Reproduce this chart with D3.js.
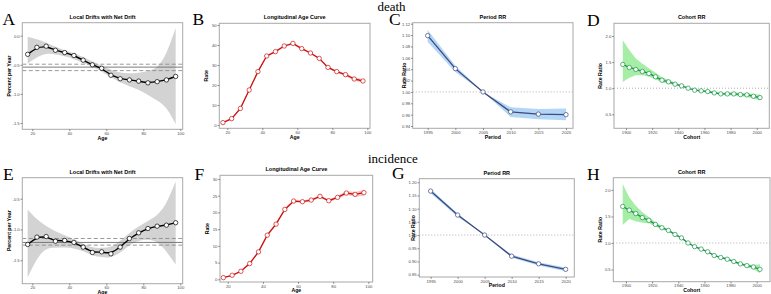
<!DOCTYPE html>
<html>
<head>
<meta charset="utf-8">
<script src="https://cdn.jsdelivr.net/npm/d3@7"></script>
<style>
body { margin: 0; background: #fff; }
</style>
</head>
<body>
<script>
var w = 771;
var h = 294;
var sans = "Liberation Sans, Arial, sans-serif";
var serif = "Liberation Serif, Times New Roman, serif";

// x values
var ages = [17.5,22.5,27.5,32.5,37.5,42.5,47.5,52.5,57.5,62.5,67.5,72.5,77.5,82.5,87.5,92.5,97.5];
var periods = [1995,2000,2005,2010,2015,2020];
var cohorts = [1897.5,1902.5,1907.5,1912.5,1917.5,1922.5,1927.5,1932.5,1937.5,1942.5,1947.5,
               1952.5,1957.5,1962.5,1967.5,1972.5,1977.5,1982.5,1987.5,1992.5,1997.5,2002.5];

// death
var deathDrift   = [-0.32,-0.20,-0.18,-0.25,-0.29,-0.34,-0.42,-0.50,-0.56,-0.68,-0.74,-0.76,-0.78,-0.81,-0.79,-0.76,-0.70];
var deathDriftHi = [-0.02,-0.06,-0.12,-0.19,-0.25,-0.30,-0.37,-0.44,-0.52,-0.59,-0.64,-0.65,-0.64,-0.61,-0.56,-0.33,0.13];
var deathDriftLo = [-0.48,-0.37,-0.30,-0.32,-0.35,-0.40,-0.47,-0.53,-0.61,-0.72,-0.80,-0.87,-0.93,-1.02,-1.11,-1.22,-1.52];
var deathNet     = [-0.54,-0.60,-0.49];   // net drift, lower, upper
var deathAge     = [1.2,3.2,8.3,17.5,26.7,34.5,36.7,39.5,40.8,38.2,36.0,33.3,28.8,26.7,25.2,23.0,22.0];
var deathAgeLo   = [1.0,2.9,7.9,17.0,26.2,34.0,36.2,39.0,40.3,37.7,35.5,32.8,28.3,26.1,24.5,22.2,21.0];
var deathAgeHi   = [1.4,3.5,8.7,18.0,27.2,35.0,37.2,40.0,41.3,38.7,36.5,33.8,29.3,27.3,25.9,23.8,23.0];
var deathPeriod   = [1.099,1.041,1.000,0.965,0.961,0.960];
var deathPeriodLo = [1.088,1.035,1.000,0.956,0.952,0.950];
var deathPeriodHi = [1.109,1.046,1.000,0.973,0.970,0.971];
var deathCohort   = [1.455,1.397,1.359,1.320,1.282,1.218,1.154,1.122,1.077,1.045,1.000,
                     0.962,0.949,0.936,0.910,0.891,0.891,0.891,0.878,0.872,0.846,0.820];
var deathCohortLo = [1.12,1.20,1.25,1.25,1.22,1.17,1.11,1.09,1.05,1.03,1.00,
                     0.95,0.93,0.915,0.89,0.87,0.865,0.86,0.845,0.835,0.80,0.77];
var deathCohortHi = [1.92,1.73,1.57,1.47,1.38,1.30,1.21,1.16,1.11,1.06,1.00,
                     0.975,0.97,0.96,0.935,0.915,0.92,0.925,0.91,0.91,0.89,0.88];

// incidence
var incDrift   = [-1.243,-1.124,-1.114,-1.19,-1.178,-1.21,-1.286,-1.373,-1.362,-1.395,-1.286,-1.146,-1.054,-0.984,-0.946,-0.93,-0.89];
var incDriftHi = [-0.676,-0.84,-0.95,-1.03,-1.09,-1.16,-1.23,-1.30,-1.30,-1.29,-1.19,-1.05,-0.95,-0.86,-0.78,-0.59,-0.22];
var incDriftLo = [-1.78,-1.46,-1.30,-1.30,-1.29,-1.30,-1.35,-1.43,-1.45,-1.46,-1.38,-1.25,-1.18,-1.16,-1.19,-1.35,-1.57];
var incNet     = [-1.21,-1.254,-1.146];
var incAge     = [0.5,1.2,2.4,4.7,8.2,13.2,16.5,20.9,23.4,23.2,23.7,24.8,23.5,24.5,25.8,25.4,25.9];
var incAgeLo   = [0.4,1.0,2.2,4.4,7.9,12.8,16.1,20.5,23.0,22.8,23.3,24.4,23.1,24.0,25.2,24.7,25.0];
var incAgeHi   = [0.6,1.4,2.6,5.0,8.5,13.6,16.9,21.3,23.8,23.6,24.1,25.2,23.9,25.0,26.4,26.1,26.8];
var incPeriod   = [1.1667,1.0758,1.000,0.920,0.891,0.870];
var incPeriodLo = [1.158,1.069,1.000,0.914,0.885,0.863];
var incPeriodHi = [1.175,1.082,1.000,0.926,0.897,0.877];
var incCohort   = [1.688,1.618,1.554,1.478,1.427,1.350,1.287,1.236,1.160,1.096,1.000,
                   0.930,0.885,0.834,0.764,0.726,0.694,0.650,0.605,0.573,0.548,0.503];
var incCohortLo = [1.34,1.45,1.41,1.38,1.37,1.31,1.26,1.21,1.14,1.08,1.00,
                   0.92,0.87,0.82,0.75,0.71,0.675,0.63,0.58,0.545,0.51,0.43];
var incCohortHi = [2.11,1.86,1.70,1.58,1.49,1.39,1.32,1.26,1.18,1.11,1.00,
                   0.94,0.90,0.85,0.78,0.745,0.715,0.67,0.63,0.60,0.585,0.60];

// tick labels
var ageTicks = [20,40,60,80,100];
var periodTicks = [1995,2000,2005,2010,2015,2020];
var cohortTicks = [1900,1920,1940,1960,1980,2000];
var deathDriftTicks = [0,-0.5,-1,-1.5];
var incDriftTicks = [-0.5,-1,-1.5];
var deathAgeTicks = [0,10,20,30,40,50];
var incAgeTicks = [0,5,10,15,20,25,30];
var deathPeriodTicks = [0.94,0.96,0.98,1.00,1.02,1.04,1.06,1.08,1.10,1.12];
var incPeriodTicks = [0.85,0.90,0.95,1.00,1.05,1.10,1.15,1.20];
var cohortRRTicks = [0.5,1.0,1.5,2.0];

var svg = d3.select("body").append("svg")
    .attr("width", w)
    .attr("height", h)
    .style("font-family", sans);

var clipId = 0;

function panel(p) {
    var g = svg.append("g");
    var x = d3.scaleLinear().domain(p.xDomain).range([p.left, p.right]);
    var y = d3.scaleLinear().domain(p.yDomain).range([p.bottom, p.top]);
    var id = "clip" + (clipId++);
    g.append("clipPath").attr("id", id).append("rect")
        .attr("x", p.left).attr("y", p.top)
        .attr("width", p.right - p.left).attr("height", p.bottom - p.top);
    var inner = g.append("g").attr("clip-path", "url(#" + id + ")");

    // confidence band
    var area = d3.area()
        .x(function(d, i) { return x(p.xs[i]); })
        .y0(function(d, i) { return y(p.lo[i]); })
        .y1(function(d, i) { return y(p.hi[i]); })
        .curve(p.curve);
    inner.append("path").datum(p.vals)
        .attr("d", area)
        .attr("fill", p.band);

    // net drift lines
    if (p.net) {
        inner.selectAll("line.net").data(p.net).enter().append("line")
            .attr("x1", p.left).attr("x2", p.right)
            .attr("y1", function(d) { return y(d); })
            .attr("y2", function(d) { return y(d); })
            .attr("stroke", function(d, i) { return i == 0 ? "#6e6e6e" : "#8c8c8c"; })
            .attr("stroke-width", 0.9)
            .attr("stroke-dasharray", function(d, i) { return i == 0 ? null : "4,2.5"; });
    }
    // reference line at 1
    if (p.refLine != null) {
        inner.append("line")
            .attr("x1", p.left).attr("x2", p.right)
            .attr("y1", y(p.refLine)).attr("y2", y(p.refLine))
            .attr("stroke", "#9a9a9a")
            .attr("stroke-width", 0.8)
            .attr("stroke-dasharray", "1,2");
    }

    var line = d3.line()
        .x(function(d, i) { return x(p.xs[i]); })
        .y(function(d) { return y(d); })
        .curve(p.curve);
    inner.append("path").datum(p.vals)
        .attr("d", line)
        .attr("fill", "none")
        .attr("stroke", p.color)
        .attr("stroke-width", p.lineWidth || 1.3);

    inner.selectAll("circle").data(p.vals).enter().append("circle")
        .attr("cx", function(d, i) { return x(p.xs[i]); })
        .attr("cy", function(d) { return y(d); })
        .attr("r", 2.2)
        .attr("fill", "white")
        .attr("stroke", p.color)
        .attr("stroke-width", 0.7);

    // border
    g.append("rect")
        .attr("x", p.left).attr("y", p.top)
        .attr("width", p.right - p.left).attr("height", p.bottom - p.top)
        .attr("fill", "none")
        .attr("stroke", "#a8a8a8")
        .attr("stroke-width", 1);

    var xa = g.append("g")
        .attr("transform", "translate(0," + p.bottom + ")")
        .call(d3.axisBottom(x).tickValues(p.xTicks).tickSize(1.8).tickPadding(0.8)
              .tickFormat(function(d) { return d; }));
    var ya = g.append("g")
        .attr("transform", "translate(" + p.left + ",0)")
        .call(d3.axisLeft(y).tickValues(p.yTicks).tickSize(1.8).tickPadding(0.8)
              .tickFormat(function(d) { return d.toFixed(p.yDigits); }));
    [xa, ya].forEach(function(a) {
        a.attr("font-family", null).attr("font-size", null);
        a.select(".domain").remove();
        a.selectAll("line").attr("stroke", "#444").attr("stroke-width", 0.6);
        a.selectAll("text")
            .style("font-size", "4.2px")
            .style("font-family", sans)
            .attr("fill", "#4d4d4d");
    });

    g.append("text")
        .attr("x", (p.left + p.right) / 2)
        .attr("y", p.top - 4)
        .attr("text-anchor", "middle")
        .style("font-size", "5.5px")
        .style("font-weight", "bold")
        .text(p.title);
    g.append("text")
        .attr("x", (p.left + p.right) / 2)
        .attr("y", p.bottom + 10.3)
        .attr("text-anchor", "middle")
        .style("font-size", "5.2px")
        .style("font-weight", "bold")
        .text(p.xLabel);
    g.append("text")
        .attr("transform", "translate(" + p.yLabelX + "," + (p.top + p.bottom) / 2 + ") rotate(-90)")
        .attr("text-anchor", "middle")
        .style("font-size", "5.2px")
        .style("font-weight", "bold")
        .text(p.yLabel);
    svg.append("text")
        .attr("x", p.letter[0]).attr("y", p.letter[1])
        .style("font-family", serif)
        .style("font-size", "17.5px")
        .text(p.letterText);
}

// death row
panel({ left: 22.3, right: 182.7, top: 22.7, bottom: 129.3,
        xDomain: [14.6, 101.3], yDomain: [-1.608, 0.223],
        xs: ages, vals: deathDrift, lo: deathDriftLo, hi: deathDriftHi, net: deathNet,
        curve: d3.curveBasis, color: "#000", band: "#d3d3d3", lineWidth: 1.4,
        xTicks: ageTicks, yTicks: deathDriftTicks, yDigits: 1,
        title: "Local Drifts with Net Drift", xLabel: "Age", yLabel: "Percent per Year", yLabelX: 11,
        letter: [2.5, 25], letterText: "A" });
panel({ left: 219.3, right: 370, top: 23.3, bottom: 128.3,
        xDomain: [15.43, 101.5], yDomain: [-1.65, 50.85],
        xs: ages, vals: deathAge, lo: deathAgeLo, hi: deathAgeHi,
        curve: d3.curveLinear, color: "#cc1111", band: "#f6c6c6",
        xTicks: ageTicks, yTicks: deathAgeTicks, yDigits: 0,
        title: "Longitudinal Age Curve", xLabel: "Age", yLabel: "Rate", yLabelX: 208,
        letter: [192.5, 25], letterText: "B" });
panel({ left: 412.7, right: 573, top: 22.7, bottom: 128.3,
        xDomain: [1992.29, 2021.27], yDomain: [0.936, 1.1218],
        xs: periods, vals: deathPeriod, lo: deathPeriodLo, hi: deathPeriodHi, refLine: 1,
        curve: d3.curveLinear, color: "#3d4a7c", band: "#b4d6f6",
        xTicks: periodTicks, yTicks: deathPeriodTicks, yDigits: 2,
        title: "Period RR", xLabel: "Period", yLabel: "Rate Ratio", yLabelX: 406,
        letter: [389, 25], letterText: "C" });
panel({ left: 614, right: 769.3, top: 23.3, bottom: 128.3,
        xDomain: [1890.8, 2009.6], yDomain: [0.232, 2.243],
        xs: cohorts, vals: deathCohort, lo: deathCohortLo, hi: deathCohortHi, refLine: 1,
        curve: d3.curveLinear, color: "#17924a", band: "#a6eea6",
        xTicks: cohortTicks, yTicks: cohortRRTicks, yDigits: 1,
        title: "Cohort RR", xLabel: "Cohort", yLabel: "Rate Ratio", yLabelX: 602,
        letter: [587, 26], letterText: "D" });

// incidence row
panel({ left: 22.3, right: 182.7, top: 177.7, bottom: 283.7,
        xDomain: [14.6, 101.3], yDomain: [-1.88, -0.159],
        xs: ages, vals: incDrift, lo: incDriftLo, hi: incDriftHi, net: incNet,
        curve: d3.curveBasis, color: "#000", band: "#d3d3d3", lineWidth: 1.4,
        xTicks: ageTicks, yTicks: incDriftTicks, yDigits: 1,
        title: "Local Drifts with Net Drift", xLabel: "Age", yLabel: "Percent per Year", yLabelX: 10.5,
        letter: [3, 180], letterText: "E" });
panel({ left: 220, right: 372.7, top: 175.3, bottom: 282,
        xDomain: [15.6, 102.5], yDomain: [-0.81, 31.1],
        xs: ages, vals: incAge, lo: incAgeLo, hi: incAgeHi,
        curve: d3.curveLinear, color: "#cc1111", band: "#f6c6c6",
        xTicks: ageTicks, yTicks: incAgeTicks, yDigits: 0,
        title: "Longitudinal Age Curve", xLabel: "Age", yLabel: "Rate", yLabelX: 209,
        letter: [194.5, 180], letterText: "F" });
panel({ left: 419.3, right: 574.3, top: 178.7, bottom: 277,
        xDomain: [1992.9, 2021.6], yDomain: [0.841, 1.2136],
        xs: periods, vals: incPeriod, lo: incPeriodLo, hi: incPeriodHi, refLine: 1,
        curve: d3.curveLinear, color: "#3d4a7c", band: "#b4d6f6",
        xTicks: periodTicks, yTicks: incPeriodTicks, yDigits: 2,
        title: "Period RR", xLabel: "Period", yLabel: "Rate Ratio", yLabelX: 414.5,
        letter: [392, 178.5], letterText: "G" });
panel({ left: 613.3, right: 770, top: 177.7, bottom: 281.7,
        xDomain: [1890.3, 2010.2], yDomain: [0.27, 2.23],
        xs: cohorts, vals: incCohort, lo: incCohortLo, hi: incCohortHi, refLine: 1,
        curve: d3.curveLinear, color: "#17924a", band: "#a6eea6",
        xTicks: cohortTicks, yTicks: cohortRRTicks, yDigits: 1,
        title: "Cohort RR", xLabel: "Cohort", yLabel: "Rate Ratio", yLabelX: 602,
        letter: [587, 179.5], letterText: "H" });

// row headers
svg.append("text").attr("x", 391.5).attr("y", 10.5)
    .attr("text-anchor", "middle")
    .style("font-family", serif)
    .style("font-size", "13px")
    .text("death");
svg.append("text").attr("x", 392.8).attr("y", 163)
    .attr("text-anchor", "middle")
    .style("font-family", serif)
    .style("font-size", "13px")
    .text("incidence");
</script>
</body>
</html>
